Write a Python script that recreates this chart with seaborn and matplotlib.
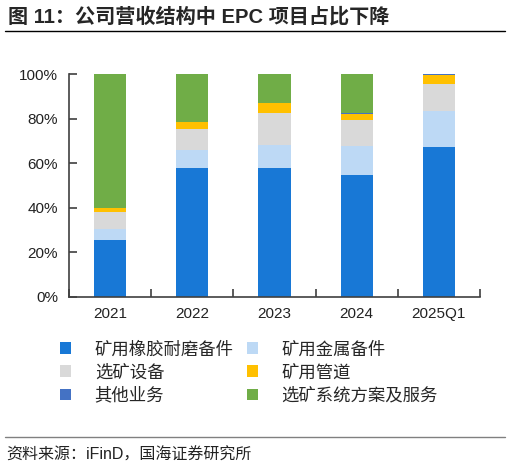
import numpy as np
import pandas as pd
import seaborn as sns
import matplotlib.pyplot as plt
from matplotlib.patches import Patch
from matplotlib.lines import Line2D
from matplotlib.ticker import PercentFormatter

periods = ["2021", "2022", "2023", "2024", "2025Q1"]
series = ["矿用橡胶耐磨备件", "矿用金属备件", "选矿设备", "矿用管道", "其他业务", "选矿系统方案及服务"]
colors = ["#1878D6", "#BDD9F5", "#D9D9D9", "#FFC000", "#4472C4", "#70AD47"]

rubber = [25.4, 57.9, 57.9, 54.6, 67.1]
metal = [5.3, 8.0, 10.1, 12.9, 16.4]
equip = [7.3, 9.4, 14.3, 12.0, 12.0]
pipe = [2.0, 3.1, 4.8, 2.4, 3.9]
other = [0.1, 0.1, 0.1, 0.4, 0.5]
service = [59.9, 21.5, 12.8, 17.7, 0.1]

sns.set_style("ticks")
plt.rcParams["font.family"] = ["Liberation Sans", "Noto Sans CJK SC"]

df = pd.DataFrame(np.array([rubber, metal, equip, pipe, other, service]).T / 100,
                  columns=series, index=periods)
cum = df.cumsum(axis=1)

fig = plt.figure(figsize=(5.12, 4.68), dpi=100)
ax = fig.add_axes([69 / 512, 1 - 297 / 468, 411 / 512, 223 / 468])

# stack by overlaying cumulative bars, top series first
for name, c in reversed(list(zip(series, colors))):
    sns.barplot(x=periods, y=cum[name].values, color=c, saturation=1,
                width=0.39, linewidth=0, ax=ax)

ax.set_xlim(-0.5, 4.5)
ax.set_ylim(0, 1)
ax.set_yticks(np.arange(0, 1.01, 0.2))
ax.yaxis.set_major_formatter(PercentFormatter(1.0, decimals=0))
ax.set_xticks(np.arange(-0.5, 4.6, 1), minor=True)
ax.tick_params(axis="x", which="major", length=0, pad=7, labelsize=11, colors="#222222")
ax.tick_params(axis="x", which="minor", direction="in", length=6, width=1.2, color="#404040")
ax.tick_params(axis="y", direction="in", length=6, width=1.2, color="#404040",
               pad=8, labelsize=11, labelcolor="#222222")
for s in ["top", "right"]:
    ax.spines[s].set_visible(False)
for s in ["left", "bottom"]:
    ax.spines[s].set_color("#404040")
    ax.spines[s].set_linewidth(1.2)
ax.set_xlabel("")
ax.set_ylabel("")

order = [0, 2, 4, 1, 3, 5]
handles = [Patch(facecolor=colors[i], edgecolor="none") for i in order]
labels = [series[i] for i in order]
fig.legend(handles, labels, ncol=2, loc="upper left", frameon=False,
           bbox_to_anchor=(60 / 512, 1 - 341 / 468), borderpad=0, borderaxespad=0,
           handlelength=0.65, handleheight=0.65, handletextpad=1.35,
           columnspacing=0.75, labelspacing=0.38, fontsize=12.5)

fig.text(8 / 512, 1 - 17 / 468, "图 11：公司营收结构中 EPC 项目占比下降",
         fontsize=14.5, fontweight="bold", va="center", ha="left")
fig.add_artist(Line2D([5 / 512, 505 / 512], [1 - 31 / 468] * 2, color="black", lw=1))
fig.add_artist(Line2D([5 / 512, 505 / 512], [1 - 437 / 468] * 2, color="#808080", lw=1))
fig.text(6 / 512, 1 - 455 / 468, "资料来源：iFinD，国海证券研究所",
         fontsize=11.5, va="center", ha="left", color="#222222")

fig.savefig("out.png", dpi=100)
